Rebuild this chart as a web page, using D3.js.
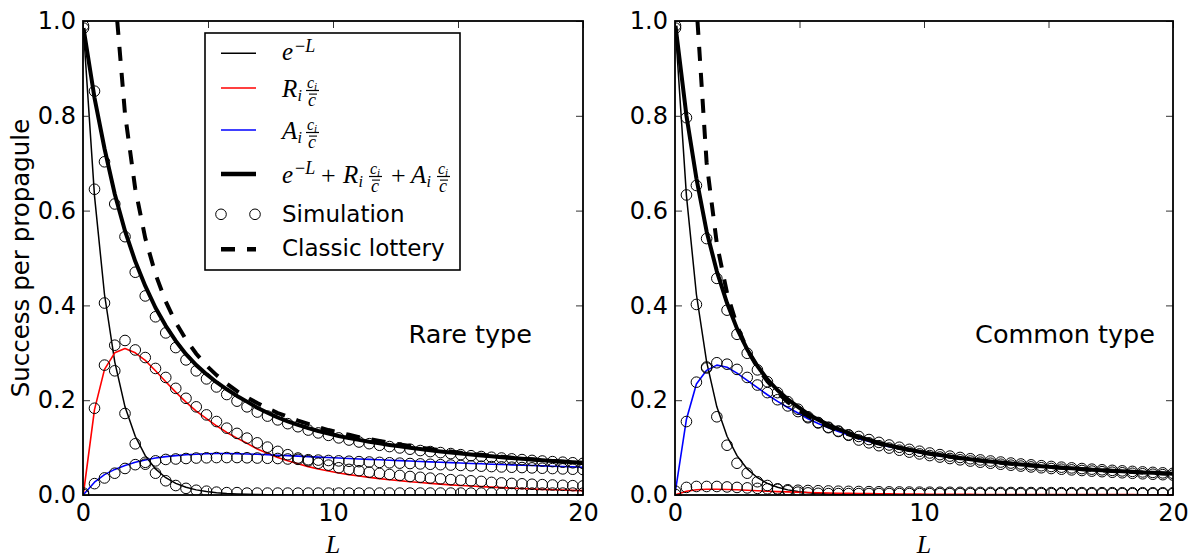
<!DOCTYPE html>
<html>
<head>
<meta charset="utf-8">
<script src="https://cdn.jsdelivr.net/npm/d3@7"></script>
<style>
  body { margin: 0; background: #fff; }
  svg { display: block; }
</style>
</head>
<body>
<svg id="chart" width="1190" height="560"></svg>
<script>
// Larval density L at which the model and the simulation were evaluated
const L = [0.02,0.46,0.86,1.27,1.68,2.09,2.49,2.90,3.31,3.71,4.12,4.53,4.94,5.34,5.75,6.16,6.56,6.97,7.38,7.79,
           8.19,8.60,9.01,9.41,9.82,10.23,10.64,11.04,11.45,11.86,12.26,12.67,13.08,13.49,13.89,14.30,14.71,15.11,15.52,15.93,
           16.34,16.74,17.15,17.56,17.96,18.37,18.78,19.19,19.59,20.00];

// e^{-L}: chance a propagule lands alone
const expL = [0.980,0.631,0.423,0.281,0.186,0.124,0.083,0.055,0.0365,0.0245,0.0162,0.0108,0.0072,0.0048,0.0032,0.0021,0.0014,0.0009,0.0006,0.0004,
              0.0003,0.0002,0.0001,0,0,0,0,0,0,0,0,0,0,0,0,0,0,0,0,0,
              0,0,0,0,0,0,0,0,0,0];

// Rare type: model terms
const rareR = [0.004,0.18,0.265,0.300,0.309,0.300,0.284,0.262,0.239,0.217,0.196,0.177,0.161,0.146,0.132,0.120,0.109,0.0971,0.0879,0.0791,
               0.0722,0.0658,0.0599,0.055,0.0508,0.0465,0.043,0.0402,0.0371,0.0346,0.0323,0.0303,0.0281,0.0263,0.0246,0.023,0.0214,0.0201,0.0189,0.0177,
               0.0166,0.0155,0.0144,0.0136,0.0127,0.0119,0.0111,0.0104,0.0097,0.0092];
const rareA = [0.001,0.027,0.043,0.054,0.062,0.069,0.074,0.078,0.081,0.083,0.085,0.086,0.087,0.0875,0.0875,0.087,0.0865,0.086,0.085,0.084,
               0.083,0.082,0.081,0.080,0.079,0.078,0.077,0.0761,0.0752,0.0743,0.0734,0.0725,0.0716,0.0707,0.0698,0.069,0.0682,0.0674,0.0666,0.0658,
               0.065,0.0643,0.0636,0.0629,0.0622,0.0615,0.0608,0.0601,0.0594,0.0587];
const rareTotal = [0.985,0.838,0.731,0.635,0.557,0.493,0.441,0.395,0.357,0.325,0.297,0.274,0.255,0.238,0.223,0.209,0.197,0.184,0.1735,0.1635,
                   0.1555,0.148,0.141,0.135,0.1298,0.1245,0.120,0.1163,0.1123,0.1089,0.1057,0.1028,0.0997,0.097,0.0944,0.092,0.0896,0.0875,0.0855,0.0835,
                   0.0816,0.0798,0.078,0.0765,0.0749,0.0734,0.0719,0.0705,0.0691,0.0679];
const rareLottery = [null,null,null,1.063,0.804,0.646,0.542,0.466,0.408,0.364,0.328,0.298,0.273,0.253,0.235,0.219,0.206,0.194,0.183,0.173,
                     0.165,0.157,0.150,0.143,0.137,0.132,0.127,0.122,0.118,0.114,0.110,0.1066,0.1032,0.1001,0.0972,0.0944,0.0918,0.0893,0.0870,0.0847,
                     0.0826,0.0806,0.0787,0.0769,0.0752,0.0735,0.0719,0.0703,0.0689,0.0675];

// Rare type: simulation
const rareSimE = [0.985,0.645,0.405,0.262,0.172,0.108,0.065,0.046,0.030,0.020,0.014,0.010,0.008,0.006,0.005,0.005,0.004,0.004,0.004,0.004,
                  0.004,0.004,0.004,0.004,0.004,0.004,0.004,0.004,0.004,0.004,0.004,0.004,0.004,0.004,0.004,0.004,0.004,0.004,0.004,0.004,
                  0.004,0.004,0.004,0.004,0.004,0.004,0.004,0.004,0.004,0.004];
const rareSimR = [0.004,0.183,0.274,0.316,0.326,0.306,0.290,0.267,0.248,0.225,0.204,0.186,0.169,0.155,0.141,0.130,0.120,0.110,0.101,0.092,
                  0.085,0.078,0.072,0.067,0.063,0.0575,0.054,0.0512,0.0481,0.0456,0.0433,0.0413,0.0391,0.0373,0.0356,0.034,0.0324,0.0311,0.0299,0.0287,
                  0.0266,0.0255,0.0244,0.0236,0.0227,0.0219,0.0211,0.0204,0.0197,0.0192];
const rareSimA = [0.001,0.024,0.036,0.046,0.056,0.064,0.069,0.072,0.075,0.076,0.077,0.078,0.0785,0.079,0.079,0.079,0.0785,0.078,0.0775,0.077,
                  0.076,0.0752,0.0744,0.0736,0.0728,0.072,0.0712,0.0704,0.0696,0.0688,0.068,0.0672,0.0664,0.0656,0.0648,0.064,0.0632,0.0624,0.0616,0.0608,
                  0.060,0.0593,0.0586,0.0579,0.0572,0.0565,0.0558,0.0551,0.0544,0.0537];
const rareSimTotal = [0.99,0.852,0.703,0.614,0.545,0.470,0.420,0.376,0.342,0.311,0.285,0.262,0.245,0.228,0.212,0.198,0.186,0.175,0.1665,0.1585,
                      0.1505,0.144,0.137,0.131,0.1258,0.1205,0.116,0.1118,0.1083,0.1049,0.1022,0.0993,0.0966,0.0938,0.0916,0.0895,0.0874,0.0851,0.0829,0.0812,
                      0.0796,0.078,0.0762,0.0747,0.073,0.0717,0.0704,0.0692,0.068,0.0668];

// Common type: model terms
const commonR = [0.0005,0.008,0.011,0.012,0.012,0.0115,0.011,0.010,0.009,0.008,0.0072,0.0065,0.0058,0.0052,0.0047,0.0042,0.0038,0.0034,0.0031,0.0028,
                 0.0026,0.0024,0.0022,0.002,0.0019,0.0017,0.0016,0.0015,0.0014,0.0013,0.0012,0.0012,0.0011,0.0011,0.001,0.001,0.0009,0.0009,0.0009,0.0008,
                 0.0008,0.0008,0.0007,0.0007,0.0007,0.0007,0.0006,0.0006,0.0006,0.0006];
const commonA = [0.009,0.160,0.234,0.263,0.274,0.2695,0.257,0.242,0.2265,0.2115,0.1976,0.1847,0.173,0.161,0.151,0.1417,0.1338,0.1267,0.1188,0.1128,
                 0.1071,0.1019,0.0974,0.0933,0.0894,0.0859,0.0826,0.0796,0.0768,0.0742,0.0718,0.0695,0.0674,0.0653,0.0634,0.0616,0.0599,0.0583,0.0568,0.0554,
                 0.054,0.0527,0.0515,0.0503,0.0492,0.0481,0.0471,0.0461,0.0451,0.0442];
const commonTotal = [0.99,0.80,0.668,0.556,0.472,0.405,0.351,0.307,0.272,0.244,0.221,0.202,0.186,0.171,0.159,0.148,0.139,0.131,0.1225,0.116,
                     0.110,0.1045,0.0997,0.0953,0.0913,0.0876,0.0842,0.0811,0.0782,0.0755,0.073,0.0707,0.0685,0.0664,0.0644,0.0626,0.0608,0.0592,0.0577,0.0562,
                     0.0548,0.0535,0.0522,0.051,0.0499,0.0488,0.0477,0.0467,0.0457,0.0448];
const commonLottery = [null,null,1.035,0.701,0.530,0.426,0.357,0.307,0.269,0.240,0.216,0.196,0.180,0.1667,0.1548,0.1445,0.1357,0.1277,0.1206,0.1143,
                       0.1087,0.1035,0.0988,0.0946,0.0906,0.0870,0.0836,0.0806,0.0777,0.0750,0.0726,0.0702,0.0680,0.0660,0.0641,0.0622,0.0605,0.0589,0.0573,0.0559,
                       0.0545,0.0532,0.0519,0.0507,0.0496,0.0484,0.0474,0.0464,0.0454,0.0445];

// Common type: simulation
const commonSimE = [0.985,0.633,0.402,0.270,0.165,0.105,0.067,0.046,0.028,0.020,0.013,0.009,0.006,0.0045,0.0035,0.003,0.003,0.003,0.003,0.003,
                    0.003,0.003,0.003,0.003,0.003,0.003,0.003,0.003,0.003,0.003,0.003,0.003,0.003,0.003,0.003,0.003,0.003,0.003,0.003,0.003,
                    0.003,0.003,0.003,0.003,0.003,0.003,0.003,0.003,0.003,0.003];
const commonSimR = [0.001,0.016,0.018,0.018,0.018,0.017,0.016,0.015,0.014,0.013,0.012,0.011,0.010,0.0095,0.009,0.0085,0.008,0.0077,0.0074,0.0071,
                    0.0068,0.0066,0.0064,0.0062,0.006,0.0059,0.0058,0.0057,0.0056,0.0055,0.0054,0.0054,0.0053,0.0053,0.0052,0.0052,0.0051,0.0051,0.005,0.005,
                    0.005,0.0049,0.0049,0.0049,0.0048,0.0048,0.0048,0.0047,0.0047,0.0047];
const commonSimA = [0.008,0.155,0.238,0.268,0.279,0.276,0.265,0.248,0.232,0.216,0.201,0.188,0.176,0.163,0.152,0.142,0.134,0.126,0.116,0.110,
                    0.104,0.099,0.0945,0.0905,0.0867,0.0832,0.080,0.077,0.0742,0.0716,0.0692,0.067,0.0649,0.0629,0.061,0.0592,0.0575,0.0559,0.0544,0.053,
                    0.0517,0.0504,0.0492,0.048,0.0469,0.0458,0.0448,0.0438,0.0429,0.042];
const commonSimTotal = [0.99,0.796,0.653,0.541,0.457,0.39,0.339,0.299,0.264,0.239,0.216,0.197,0.181,0.165,0.153,0.143,0.135,0.127,0.1235,0.117,
                        0.111,0.1055,0.1007,0.0963,0.0923,0.0886,0.0852,0.0821,0.0792,0.0765,0.074,0.0717,0.0695,0.0674,0.0654,0.0636,0.0618,0.0602,0.0587,0.0572,
                        0.0558,0.0545,0.0532,0.052,0.0509,0.0498,0.0487,0.0477,0.0467,0.0458];

// Axes
const xTicks = [0, 5, 10, 15, 20];
const xTickLabels = [0, 10, 20];
const yTicks = [0, 0.2, 0.4, 0.6, 0.8, 1.0];
const panelTitles = ["Rare type", "Common type"];

const svg = d3.select("#chart");
const SANS = "DejaVu Sans, Liberation Sans, sans-serif";
const SERIF = "Liberation Serif, DejaVu Serif, serif";
const plotTop = 21, plotBottom = 495;

const panels = [
  { x0: 83, x1: 583, title: panelTitles[0], titleX: 532, yLabel: true,
    e: expL, R: rareR, A: rareA, total: rareTotal, lottery: rareLottery,
    simE: rareSimE, simR: rareSimR, simA: rareSimA, simTotal: rareSimTotal },
  { x0: 675, x1: 1173, title: panelTitles[1], titleX: 1155, yLabel: false,
    e: expL, R: commonR, A: commonA, total: commonTotal, lottery: commonLottery,
    simE: commonSimE, simR: commonSimR, simA: commonSimA, simTotal: commonSimTotal }
];

const DASH = [14, 12];

panels.forEach((p, pi) => {
  const x = d3.scaleLinear().domain([0, 20]).range([p.x0, p.x1]);
  const y = d3.scaleLinear().domain([0, 1]).range([plotBottom, plotTop]);
  const g = svg.append("g");

  const clipId = "clip" + pi;
  svg.append("clipPath").attr("id", clipId)
    .append("rect").attr("x", p.x0).attr("y", plotTop)
    .attr("width", p.x1 - p.x0).attr("height", plotBottom - plotTop);

  const plot = g.append("g").attr("clip-path", `url(#${clipId})`);

  const line = d3.line()
    .defined(d => d[1] !== null)
    .x(d => x(d[0])).y(d => y(d[1]));
  const pts = arr => L.map((l, i) => [l, arr[i]]);

  const curves = [
    { data: p.e, color: "#000", width: 1.5 },
    { data: p.R, color: "#ff0000", width: 1.6 },
    { data: p.A, color: "#0000ff", width: 1.6 },
    { data: p.total, color: "#000", width: 4 }
  ];
  curves.forEach(c => {
    plot.append("path").attr("d", line(pts(c.data)))
      .attr("fill", "none").attr("stroke", c.color)
      .attr("stroke-width", c.width).attr("stroke-linejoin", "round");
  });

  // simulation markers
  [p.simE, p.simR, p.simA, p.simTotal].forEach(s => {
    plot.append("g").selectAll("circle").data(pts(s)).join("circle")
      .attr("cx", d => x(d[0])).attr("cy", d => y(d[1])).attr("r", 5.3)
      .attr("fill", "none").attr("stroke", "#000").attr("stroke-width", 1);
  });

  // classic lottery: start the dash pattern where the curve enters the frame
  const lp = pts(p.lottery).filter(d => d[1] !== null);
  let offset = 0;
  for (let i = 0; i + 1 < lp.length; i++) {
    if (lp[i][1] > 1 && lp[i + 1][1] <= 1) {
      const ax = x(lp[i][0]), ay = y(lp[i][1]), bx = x(lp[i + 1][0]), by = y(lp[i + 1][1]);
      const seg = Math.hypot(bx - ax, by - ay);
      const before = seg * (lp[i][1] - 1) / (lp[i][1] - lp[i + 1][1]);
      let pre = 0;
      for (let j = 0; j < i; j++) pre += Math.hypot(x(lp[j + 1][0]) - x(lp[j][0]), y(lp[j + 1][1]) - y(lp[j][1]));
      const period = DASH[0] + DASH[1];
      offset = period - ((pre + before) % period);
      break;
    }
  }
  plot.append("path").attr("d", line(lp))
    .attr("fill", "none").attr("stroke", "#000").attr("stroke-width", 4)
    .attr("stroke-dasharray", DASH.join(",")).attr("stroke-dashoffset", offset);

  // axes with inward ticks on all four sides
  const tickLen = 7;
  const styleAxis = sel => {
    sel.select(".domain").remove();
    sel.selectAll(".tick line").attr("stroke", "#333").attr("stroke-width", 1);
    sel.selectAll("text").attr("font-family", SANS).attr("font-size", 24).attr("fill", "#000");
  };
  g.append("g").attr("transform", `translate(0,${plotBottom})`)
    .call(d3.axisBottom(x).tickValues(xTicks).tickSizeInner(-tickLen).tickSizeOuter(0).tickPadding(9)
      .tickFormat(d => xTickLabels.includes(d) ? d : ""))
    .call(styleAxis);
  g.append("g").attr("transform", `translate(0,${plotTop})`)
    .call(d3.axisTop(x).tickValues(xTicks).tickSizeInner(-tickLen).tickSizeOuter(0).tickFormat(""))
    .call(styleAxis);
  g.append("g").attr("transform", `translate(${p.x0},0)`)
    .call(d3.axisLeft(y).tickValues(yTicks).tickSizeInner(-tickLen).tickSizeOuter(0).tickPadding(7)
      .tickFormat(d3.format(".1f")))
    .call(styleAxis);
  g.append("g").attr("transform", `translate(${p.x1},0)`)
    .call(d3.axisRight(y).tickValues(yTicks).tickSizeInner(-tickLen).tickSizeOuter(0).tickFormat(""))
    .call(styleAxis);

  g.append("rect").attr("x", p.x0).attr("y", plotTop)
    .attr("width", p.x1 - p.x0).attr("height", plotBottom - plotTop)
    .attr("fill", "none").attr("stroke", "#000").attr("stroke-width", 1.8);

  g.append("text").attr("x", p.titleX).attr("y", 343).attr("text-anchor", "end")
    .attr("font-family", SANS).attr("font-size", 25.5).text(p.title);

  g.append("text").attr("x", (p.x0 + p.x1) / 2).attr("y", 553).attr("text-anchor", "middle")
    .attr("font-family", SERIF).attr("font-style", "italic").attr("font-size", 26).text("L");

  if (p.yLabel) {
    g.append("text").attr("transform", `translate(29,${(plotTop + plotBottom) / 2}) rotate(-90)`)
      .attr("text-anchor", "middle").attr("font-family", SANS).attr("font-size", 24.5)
      .text("Success per propagule");
  }
});

// ---- legend ----
const lg = svg.append("g");
lg.append("rect").attr("x", 205).attr("y", 33).attr("width", 255).attr("height", 237)
  .attr("fill", "#fff").attr("stroke", "#000").attr("stroke-width", 1.6);

const sx0 = 221, sx1 = 256, tx = 282;
const sample = (yy, color, w, dash) => {
  const l = lg.append("line").attr("x1", sx0).attr("x2", sx1).attr("y1", yy).attr("y2", yy)
    .attr("stroke", color).attr("stroke-width", w);
  if (dash) l.attr("stroke-dasharray", dash);
};
sample(53.3, "#000", 1.5);
sample(88, "#ff0000", 1.6);
sample(130, "#0000ff", 1.6);
sample(174, "#000", 4.5);
sample(249.3, "#000", 4.5, DASH.join(","));
[sx0, sx1 - 1].forEach(cx => lg.append("circle").attr("cx", cx).attr("cy", 214.3).attr("r", 5.3)
  .attr("fill", "none").attr("stroke", "#000").attr("stroke-width", 1));

const mt = (x, yb, s, size, italic = true) =>
  lg.append("text").attr("x", x).attr("y", yb).attr("font-family", SERIF)
    .attr("font-style", italic ? "italic" : "normal").attr("font-size", size).text(s);

// superscript "−L"
const supL = (x, yb) => {
  const t = lg.append("text").attr("x", x).attr("y", yb).attr("font-family", SERIF).attr("font-size", 18);
  t.append("tspan").text("\u2212");
  t.append("tspan").attr("font-style", "italic").text("L");
};
// c_i over c-bar
const frac = (x, bar) => {
  mt(x + 1, bar - 3, "c", 16);
  mt(x + 8, bar - 1, "i", 11);
  lg.append("line").attr("x1", x).attr("x2", x + 13).attr("y1", bar).attr("y2", bar)
    .attr("stroke", "#000").attr("stroke-width", 1.2);
  lg.append("line").attr("x1", x + 3).attr("x2", x + 11).attr("y1", bar + 3.6).attr("y2", bar + 3.6)
    .attr("stroke", "#000").attr("stroke-width", 1.1);
  mt(x + 2, bar + 15, "c", 18);
};

// e^{-L}
mt(tx, 60, "e", 25);
supL(tx + 13, 51.5);
// R_i c_i / c-bar
mt(tx, 96.7, "R", 25);
mt(tx + 15.5, 100.5, "i", 16);
frac(tx + 24, 90.5);
// A_i c_i / c-bar
mt(tx, 138.7, "A", 25);
mt(tx + 15.5, 142.5, "i", 16);
frac(tx + 24, 132.5);
// e^{-L} + R_i c_i/c-bar + A_i c_i/c-bar
mt(tx, 182.7, "e", 25);
supL(tx + 13, 174.2);
mt(tx + 39, 183.5, "+", 26, false);
mt(tx + 61, 182.7, "R", 25);
mt(tx + 76.5, 186.5, "i", 16);
frac(tx + 87, 176.5);
mt(tx + 109, 183.5, "+", 26, false);
mt(tx + 129, 182.7, "A", 25);
mt(tx + 144.5, 186.5, "i", 16);
frac(tx + 155, 176.5);

lg.append("text").attr("x", tx).attr("y", 222).attr("font-family", SANS).attr("font-size", 23).text("Simulation");
lg.append("text").attr("x", tx).attr("y", 255.5).attr("font-family", SANS).attr("font-size", 23).text("Classic lottery");
</script>
</body>
</html>
